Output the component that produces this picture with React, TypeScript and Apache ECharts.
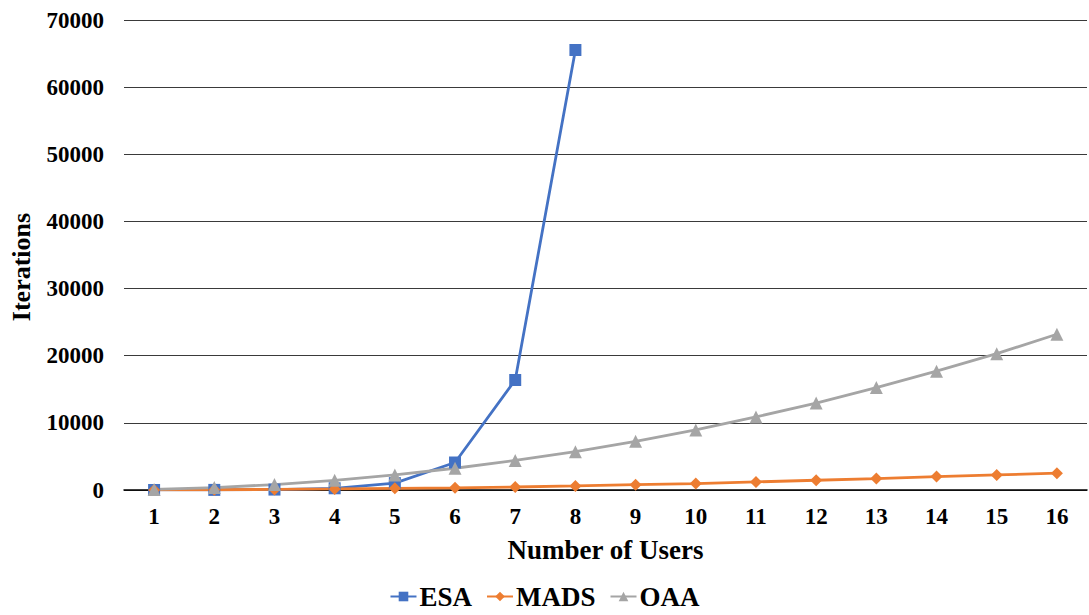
import React, { useEffect, useRef } from "react";
import * as echarts from "echarts";

const categories = ["1","2","3","4","5","6","7","8","9","10","11","12","13","14","15","16"];
const esaValues = [4, 16, 64, 256, 1024, 4096, 16384, 65536, null, null, null, null, null, null, null, null];
const madsValues = [10, 40, 90, 160, 250, 330, 450, 600, 800, 950, 1200, 1450, 1700, 2000, 2250, 2500];
const oaaValues = [90, 360, 810, 1440, 2250, 3240, 4410, 5700, 7250, 8950, 10880, 12950, 15250, 17700, 20300, 23200];
const yMax = 70000;
const yInterval = 10000;

const FONT = "Times New Roman, Liberation Serif, serif";

export default function App() {
  const ref = useRef<HTMLDivElement>(null);
  useEffect(() => {
    const chart = echarts.init(ref.current!, null, { renderer: "svg" });
    chart.setOption({
      animation: false,
      backgroundColor: "#fff",
      textStyle: { fontFamily: FONT },
      grid: { left: 123, right: 2, top: 20, bottom: 125, containLabel: false },
      legend: {
        bottom: 0,
        left: "center",
        itemWidth: 26,
        itemHeight: 12,
        itemGap: 14,
        textStyle: { fontFamily: FONT, fontWeight: "bold", fontSize: 27, color: "#000", padding: [0, 0, 0, -2] },
        data: ["ESA", "MADS", "OAA"],
      },
      xAxis: {
        type: "category",
        data: categories,
        boundaryGap: true,
        name: "Number of Users",
        nameLocation: "middle",
        nameGap: 46,
        nameTextStyle: { fontFamily: FONT, fontWeight: "bold", fontSize: 27, color: "#000" },
        axisLine: { lineStyle: { color: "#000", width: 1.5 } },
        axisTick: { show: false },
        axisLabel: { fontFamily: FONT, fontWeight: "bold", fontSize: 23, color: "#000", margin: 15 },
      },
      yAxis: {
        type: "value",
        min: 0,
        max: yMax,
        interval: yInterval,
        name: "Iterations",
        nameLocation: "middle",
        nameGap: 90,
        nameTextStyle: { fontFamily: FONT, fontWeight: "bold", fontSize: 26, color: "#000", padding: [0, 24, 0, 0] },
        axisLine: { show: false },
        axisTick: { show: false },
        axisLabel: {
          fontFamily: FONT, fontWeight: "bold", fontSize: 23, color: "#000", margin: 20,
          formatter: (v: number) => String(v),
        },
        splitLine: { lineStyle: { color: "#3a3a3a", width: 1 } },
      },
      series: [
        {
          name: "ESA",
          type: "line",
          data: esaValues,
          symbol: "rect",
          symbolSize: 12,
          color: "#4472C4",
          lineStyle: { width: 2.8, color: "#4472C4" },
          itemStyle: { color: "#4472C4" },
        },
        {
          name: "MADS",
          type: "line",
          data: madsValues,
          symbol: "diamond",
          symbolSize: 12,
          color: "#ED7D31",
          lineStyle: { width: 2.8, color: "#ED7D31" },
          itemStyle: { color: "#ED7D31" },
        },
        {
          name: "OAA",
          type: "line",
          data: oaaValues,
          symbol: "triangle",
          symbolSize: 13,
          color: "#A5A5A5",
          lineStyle: { width: 2.8, color: "#A5A5A5" },
          itemStyle: { color: "#A5A5A5" },
        },
      ],
    });
    return () => chart.dispose();
  }, []);
  return <div ref={ref} style={{ width: 1089, height: 615, position: "absolute", left: 0, top: 0 }} />;
}
